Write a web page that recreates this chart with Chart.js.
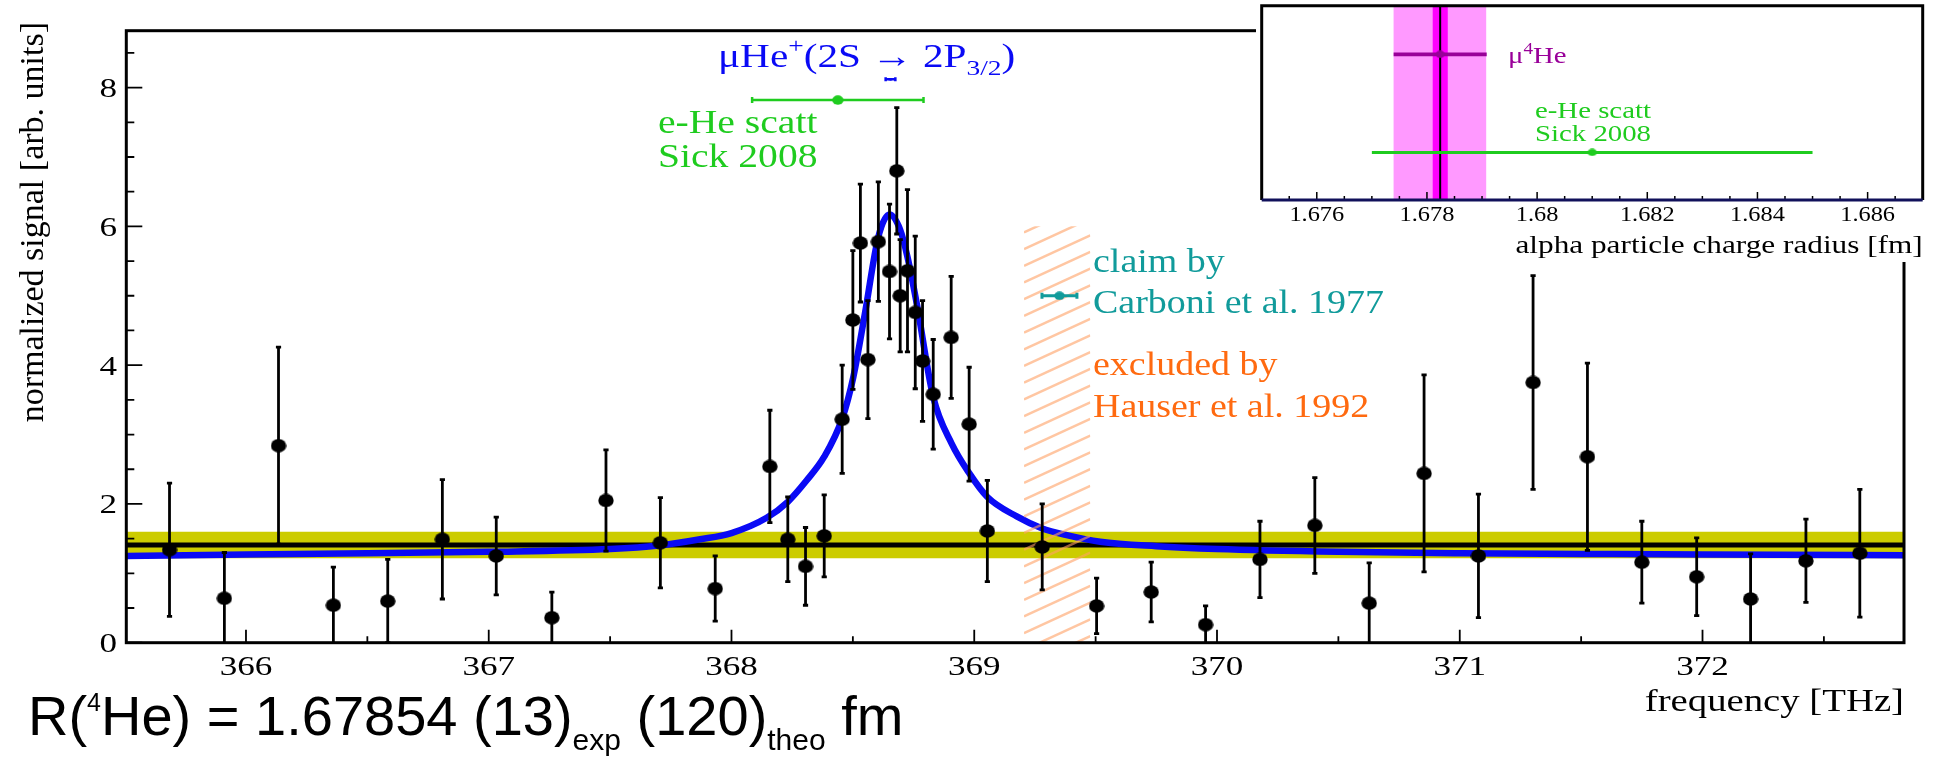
<!DOCTYPE html>
<html>
<head>
<meta charset="utf-8">
<script src="https://cdn.jsdelivr.net/npm/chart.js@4/dist/chart.umd.min.js"></script>
<style>
html, body { margin: 0; padding: 0; background: #fff; }
#wrap { position: relative; width: 1943px; height: 759px; }
#main { position: absolute; left: 0; top: 0; }
#inset { position: absolute; left: 1256px; top: 0; }
</style>
</head>
<body>
<div id="wrap">
  <canvas id="main" width="1943" height="759"></canvas>
  <canvas id="inset" width="687" height="262"></canvas>
</div>
<script>
// measured points: laser frequency [THz], normalized signal, error
var freq = [365.685, 365.911, 366.134, 366.36, 366.584, 366.809, 367.031, 367.26, 367.483, 367.707,
  367.933, 368.158, 368.232, 368.305, 368.382, 368.456, 368.50, 368.531, 368.562, 368.605,
  368.651, 368.681, 368.695, 368.725, 368.757, 368.787, 368.831, 368.905, 368.979, 369.054,
  369.28, 369.504, 369.729, 369.953, 370.177, 370.403, 370.627, 370.853, 371.077, 371.302,
  371.526, 371.75, 371.976, 372.198, 372.426, 372.648];
var signal = [1.34, 0.64, 2.84, 0.54, 0.60, 1.49, 1.25, 0.36, 2.05, 1.44,
  0.78, 2.54, 1.49, 1.10, 1.54, 3.22, 4.65, 5.76, 4.08, 5.78,
  5.35, 6.80, 5.00, 5.36, 4.76, 4.06, 3.58, 4.40, 3.15, 1.61,
  1.38, 0.53, 0.73, 0.26, 1.20, 1.69, 0.57, 2.44, 1.25, 3.75,
  2.68, 1.16, 0.95, 0.63, 1.18, 1.29];
var sigErr = [0.96, 0.66, 1.42, 0.55, 0.60, 0.86, 0.56, 0.37, 0.73, 0.65,
  0.47, 0.81, 0.61, 0.56, 0.59, 0.78, 1.00, 0.85, 0.85, 0.86,
  0.97, 0.91, 0.81, 1.17, 1.10, 0.87, 0.79, 0.88, 0.82, 0.73,
  0.62, 0.40, 0.43, 0.27, 0.55, 0.69, 0.58, 1.42, 0.89, 1.54,
  1.35, 0.59, 0.56, 0.65, 0.60, 0.92];

// fitted resonance line
var fitFreq = [365.5, 366.0, 366.5, 367.0, 367.5, 367.7, 367.871, 368.0, 368.145, 368.232,
  368.31, 368.382, 368.456, 368.502, 368.55, 368.605, 368.651, 368.695, 368.725, 368.763,
  368.831, 368.907, 368.98, 369.054, 369.175, 369.278, 369.381, 369.519, 369.75, 370.0,
  370.5, 371.0, 371.5, 372.0, 372.83];
var fitSignal = [1.25, 1.27, 1.29, 1.31, 1.35, 1.40, 1.49, 1.58, 1.80, 2.03,
  2.34, 2.68, 3.23, 3.83, 4.75, 5.85, 6.17, 5.95, 5.56, 4.89,
  3.54, 2.87, 2.44, 2.10, 1.82, 1.65, 1.55, 1.455, 1.39, 1.35,
  1.31, 1.29, 1.28, 1.27, 1.26];

// background level and its band
var freqRange = [365.507, 372.83];
var bgLevel = 1.408;
var bgBand = [1.216, 1.6];

// other results, drawn in frequency units
var muHe = [368.655, 8.12, 0.02];
var eHeScatt = [368.438, 7.82, 0.353];
var carboni = [369.351, 5.0, 0.072];
var hauserExcl = [369.205, 369.478, 6.0];

var xTickValues = [366, 367, 368, 369, 370, 371, 372];
var yTickValues = [0, 2, 4, 6, 8];

// inset: alpha particle charge radius [fm]
var radiusTicks = [1.676, 1.678, 1.68, 1.682, 1.684, 1.686];
var radiusTickLabels = ['1.676', '1.678', '1.68', '1.682', '1.684', '1.686'];
var muRadius = 1.67824;
var muRadiusExp = [1.6781, 1.67838];
var muRadiusTot = [1.67739, 1.67908];
var scattRadius = [1.681, 0.004];
var insetRows = [0.75, 0.245];

var SERIF = '"Liberation Serif", "DejaVu Serif", serif';
var SANS = '"Liberation Sans", Arial, sans-serif';

function makeDot(w, h, color) {
  var c = document.createElement('canvas');
  c.width = w; c.height = h;
  var g = c.getContext('2d');
  g.fillStyle = color;
  g.beginPath();
  g.ellipse(w / 2, h / 2, w / 2 - 0.3, h / 2 - 0.3, 0, 0, Math.PI * 2);
  g.fill();
  return c;
}

// text drawn a little wider, like the ROOT output
function wideText(ctx, parts, x, y, align, sx) {
  ctx.save();
  ctx.textBaseline = 'alphabetic';
  ctx.textAlign = 'left';
  var w = 0;
  parts.forEach(function (p) { ctx.font = p.size + 'px ' + p.family; w += ctx.measureText(p.t).width; });
  w *= sx;
  var x0 = align === 'right' ? x - w : (align === 'center' ? x - w / 2 : x);
  ctx.translate(x0, y);
  ctx.scale(sx, 1);
  var cx = 0;
  parts.forEach(function (p) {
    ctx.font = p.size + 'px ' + p.family;
    ctx.fillStyle = p.color;
    ctx.fillText(p.t, cx, p.dy || 0);
    cx += ctx.measureText(p.t).width;
  });
  ctx.restore();
}
function seg(t, size, color, family, dy) {
  return { t: t, size: size, color: color, family: family || SERIF, dy: dy || 0 };
}

var errorBars = {
  id: 'errorBars',
  beforeDatasetDraw: function (chart, args) {
    var ds = chart.data.datasets[args.index];
    if (!ds.errY && !ds.errX) return;
    var xs = chart.scales.x, ys = chart.scales.y, ctx = chart.ctx, a = chart.chartArea;
    ctx.save();
    ctx.beginPath();
    ctx.rect(a.left, a.top, a.right - a.left, a.bottom - a.top);
    ctx.clip();
    ctx.strokeStyle = ds.barColor;
    ctx.lineWidth = ds.barWidth;
    ds.data.forEach(function (p, i) {
      var px = xs.getPixelForValue(p.x), py = ys.getPixelForValue(p.y);
      var c = ds.capSize;
      ctx.beginPath();
      if (ds.errY) {
        var t = ys.getPixelForValue(p.y + ds.errY[i]), b = ys.getPixelForValue(p.y - ds.errY[i]);
        ctx.moveTo(px, t); ctx.lineTo(px, b);
        ctx.moveTo(px - c, t); ctx.lineTo(px + c, t);
        ctx.moveTo(px - c, b); ctx.lineTo(px + c, b);
      }
      if (ds.errX) {
        var l = xs.getPixelForValue(p.x - ds.errX[i]), r = xs.getPixelForValue(p.x + ds.errX[i]);
        ctx.moveTo(l, py); ctx.lineTo(r, py);
        ctx.moveTo(l, py - c); ctx.lineTo(l, py + c);
        ctx.moveTo(r, py - c); ctx.lineTo(r, py + c);
      }
      ctx.stroke();
    });
    ctx.restore();
  }
};

var hatch = {
  id: 'hatch',
  afterDatasetDraw: function (chart, args) {
    if (chart.data.datasets[args.index].label !== 'fit') return;
    var xs = chart.scales.x, ys = chart.scales.y, ctx = chart.ctx;
    var x0 = xs.getPixelForValue(hauserExcl[0]), x1 = xs.getPixelForValue(hauserExcl[1]);
    var y0 = ys.getPixelForValue(hauserExcl[2]), y1 = ys.getPixelForValue(0);
    var slope = 0.46, step = 16.7;
    ctx.save();
    ctx.beginPath();
    ctx.rect(x0, y0, x1 - x0, y1 - y0);
    ctx.clip();
    ctx.strokeStyle = 'rgba(255, 160, 100, 0.6)';
    ctx.lineWidth = 2.5;
    for (var b = y0 + 6; b < y1 + slope * (x1 - x0) + step; b += step) {
      ctx.beginPath();
      ctx.moveTo(x0, b);
      ctx.lineTo(x1, b - slope * (x1 - x0));
      ctx.stroke();
    }
    ctx.restore();
  }
};

var mainFrame = {
  id: 'mainFrame',
  afterDraw: function (chart) {
    var ctx = chart.ctx, a = chart.chartArea, xs = chart.scales.x, ys = chart.scales.y;
    ctx.save();
    ctx.strokeStyle = '#000';
    ctx.lineWidth = 1.8;
    var v, p;
    ctx.beginPath();
    for (v = 0; v <= 8.5; v += 0.5) {
      p = ys.getPixelForValue(v);
      ctx.moveTo(a.left, p); ctx.lineTo(a.left + (v % 2 === 0 ? 16 : 8), p);
    }
    for (v = 366; v <= 372.5; v += 0.5) {
      p = xs.getPixelForValue(v);
      ctx.moveTo(p, a.bottom); ctx.lineTo(p, a.bottom - (v % 1 === 0 ? 13 : 6.5));
    }
    ctx.stroke();
    ctx.lineWidth = 3;
    ctx.strokeRect(a.left, a.top, a.right - a.left, a.bottom - a.top);
    ctx.restore();

    yTickValues.forEach(function (t) {
      wideText(ctx, [seg(String(t), 27, '#000')], 117, ys.getPixelForValue(t) + 9.5, 'right', 1.3);
    });
    xTickValues.forEach(function (t) {
      wideText(ctx, [seg(String(t), 27, '#000')], xs.getPixelForValue(t), 675, 'center', 1.3);
    });
    wideText(ctx, [seg('frequency [THz]', 31, '#000')], a.right, 711, 'right', 1.25);

    ctx.save();
    ctx.translate(34, 22);
    ctx.rotate(-Math.PI / 2);
    ctx.font = '34px ' + SERIF;
    ctx.fillStyle = '#000';
    ctx.textAlign = 'right';
    ctx.textBaseline = 'middle';
    ctx.fillText('normalized signal [arb. units]', 0, 0);
    ctx.restore();

    var blue = '#0a0af5', green = '#1fcc1f', teal = '#119b9b', orange = '#ff6a10';
    wideText(ctx, [seg('\u03bcHe', 33, blue), seg('+', 22, blue, SERIF, -14), seg('(2S \u2192 2P', 33, blue),
      seg('3/2', 22, blue, SERIF, 8), seg(')', 33, blue)], 718, 67, 'left', 1.25);
    wideText(ctx, [seg('e-He scatt', 33, green)], 658, 133, 'left', 1.2);
    wideText(ctx, [seg('Sick 2008', 33, green)], 658, 167, 'left', 1.2);
    wideText(ctx, [seg('claim by', 33, teal)], 1093, 272, 'left', 1.15);
    wideText(ctx, [seg('Carboni et al. 1977', 33, teal)], 1093, 313, 'left', 1.15);
    wideText(ctx, [seg('excluded by', 33, orange)], 1093, 375, 'left', 1.15);
    wideText(ctx, [seg('Hauser et al. 1992', 33, orange)], 1093, 417, 'left', 1.15);

    wideText(ctx, [seg('R(', 56, '#000', SANS), seg('4', 25, '#000', SANS, -24),
      seg('He) = 1.67854 (13)', 56, '#000', SANS), seg('exp', 30, '#000', SANS, 15),
      seg(' (120)', 56, '#000', SANS), seg('theo', 30, '#000', SANS, 15),
      seg(' fm', 56, '#000', SANS)], 28, 735, 'left', 1);
  }
};

var points = freq.map(function (f, i) { return { x: f, y: signal[i] }; });
var fitPoints = fitFreq.map(function (f, i) { return { x: f, y: fitSignal[i] }; });

new Chart(document.getElementById('main'), {
  type: 'scatter',
  data: {
    datasets: [
      {
        type: 'line', label: 'band', order: 10, clip: 0,
        data: [{ x: freqRange[0], y: bgBand[1] }, { x: freqRange[1], y: bgBand[1] }],
        fill: { value: bgBand[0] }, backgroundColor: '#cccc00', borderWidth: 0, pointRadius: 0
      },
      {
        type: 'line', label: 'background', order: 9, clip: 0,
        data: [{ x: freqRange[0], y: bgLevel }, { x: freqRange[1], y: bgLevel }],
        borderColor: '#000', borderWidth: 5, pointRadius: 0, fill: false
      },
      {
        type: 'line', label: 'fit', order: 8, clip: 0, data: fitPoints,
        borderColor: '#0a0af5', borderWidth: 6.5, pointRadius: 0, fill: false,
        cubicInterpolationMode: 'monotone'
      },
      {
        label: 'data', order: 3, data: points, errY: sigErr,
        barColor: '#000', barWidth: 2.8, capSize: 2.6,
        pointStyle: makeDot(16, 14, '#000'), pointRadius: 7
      },
      {
        label: 'eHe', order: 2, data: [{ x: eHeScatt[0], y: eHeScatt[1] }], errX: [eHeScatt[2]],
        barColor: '#1fcc1f', barWidth: 2.5, capSize: 3,
        pointStyle: makeDot(12, 10, '#1fcc1f'), pointRadius: 5
      },
      {
        label: 'muHe', order: 1, data: [{ x: muHe[0], y: muHe[1] }], errX: [muHe[2]],
        barColor: '#0a0af5', barWidth: 2.5, capSize: 2,
        pointStyle: makeDot(4, 3, '#0a0af5'), pointRadius: 2
      },
      {
        label: 'carboni', order: 0, data: [{ x: carboni[0], y: carboni[1] }], errX: [carboni[2]],
        barColor: '#119b9b', barWidth: 3, capSize: 3,
        pointStyle: makeDot(11, 9, '#119b9b'), pointRadius: 5
      }
    ]
  },
  options: {
    responsive: false,
    animation: false,
    events: [],
    layout: { padding: { left: 0, top: 30.7, right: 39, bottom: 0 } },
    plugins: { legend: { display: false }, tooltip: { enabled: false } },
    scales: {
      x: {
        type: 'linear', min: freqRange[0], max: freqRange[1],
        grid: { display: false }, border: { display: false }, ticks: { display: false },
        afterFit: function (s) { s.height = 116.3; }
      },
      y: {
        type: 'linear', min: 0, max: 8.82,
        grid: { display: false }, border: { display: false }, ticks: { display: false },
        afterFit: function (s) { s.width = 126.3; }
      }
    }
  },
  plugins: [hatch, errorBars, mainFrame]
});

var insetFrame = {
  id: 'insetFrame',
  beforeDraw: function (chart) {
    var ctx = chart.ctx;
    ctx.save();
    ctx.fillStyle = '#fff';
    ctx.fillRect(0, 0, chart.width, chart.height);
    ctx.restore();
  },
  afterDraw: function (chart) {
    var ctx = chart.ctx, a = chart.chartArea, xs = chart.scales.x;
    ctx.save();
    ctx.strokeStyle = '#000';
    ctx.lineWidth = 1.5;
    ctx.beginPath();
    for (var v = 1.6755; v < 1.687; v += 0.0005) {
      var p = xs.getPixelForValue(v);
      var major = Math.abs((v - 1.676) / 0.002 - Math.round((v - 1.676) / 0.002)) < 0.01;
      ctx.moveTo(p, a.bottom); ctx.lineTo(p, a.bottom - (major ? 8 : 4));
    }
    ctx.stroke();
    ctx.lineWidth = 3;
    ctx.beginPath();
    ctx.moveTo(a.left, a.bottom); ctx.lineTo(a.left, a.top); ctx.lineTo(a.right, a.top); ctx.lineTo(a.right, a.bottom);
    ctx.stroke();
    ctx.strokeStyle = '#10105a';
    ctx.beginPath();
    ctx.moveTo(a.left, a.bottom); ctx.lineTo(a.right, a.bottom);
    ctx.stroke();
    ctx.restore();

    radiusTicks.forEach(function (t, i) {
      wideText(ctx, [seg(radiusTickLabels[i], 21, '#000')], xs.getPixelForValue(t), 221, 'center', 1.16);
    });
    wideText(ctx, [seg('alpha particle charge radius [fm]', 25, '#000')], a.right, 253, 'right', 1.25);
    var purple = '#990099', green = '#1fcc1f';
    wideText(ctx, [seg('\u03bc', 24, purple), seg('4', 16, purple, SERIF, -9), seg('He', 24, purple)], 252, 63, 'left', 1.2);
    wideText(ctx, [seg('e-He scatt', 24, green)], 279, 118, 'left', 1.2);
    wideText(ctx, [seg('Sick 2008', 24, green)], 279, 141, 'left', 1.2);
  }
};

new Chart(document.getElementById('inset'), {
  type: 'scatter',
  data: {
    datasets: [
      {
        type: 'line', order: 10, data: [{ x: muRadiusTot[0], y: 1 }, { x: muRadiusTot[1], y: 1 }],
        fill: 'origin', backgroundColor: '#ff99ff', borderWidth: 0, pointRadius: 0
      },
      {
        type: 'line', order: 9, data: [{ x: muRadiusExp[0], y: 1 }, { x: muRadiusExp[1], y: 1 }],
        fill: 'origin', backgroundColor: '#ff00ff', borderWidth: 0, pointRadius: 0
      },
      {
        type: 'line', order: 8, data: [{ x: muRadius, y: 0 }, { x: muRadius, y: 1 }],
        borderColor: '#000', borderWidth: 2, pointRadius: 0, fill: false
      },
      {
        order: 1, data: [{ x: muRadius, y: insetRows[0] }],
        errX: [(muRadiusTot[1] - muRadiusTot[0]) / 2], barColor: '#990099', barWidth: 3.7, capSize: 0,
        pointStyle: makeDot(9, 8, '#990099'), pointRadius: 4
      },
      {
        order: 0, data: [{ x: scattRadius[0], y: insetRows[1] }],
        errX: [scattRadius[1]], barColor: '#1fcc1f', barWidth: 3, capSize: 0,
        pointStyle: makeDot(10, 8, '#1fcc1f'), pointRadius: 4
      }
    ]
  },
  options: {
    responsive: false,
    animation: false,
    events: [],
    layout: { padding: { left: 0, top: 5.7, right: 20.3, bottom: 0 } },
    plugins: { legend: { display: false }, tooltip: { enabled: false } },
    scales: {
      x: {
        type: 'linear', min: 1.675, max: 1.687,
        grid: { display: false }, border: { display: false }, ticks: { display: false },
        afterFit: function (s) { s.height = 62; }
      },
      y: {
        type: 'linear', min: 0, max: 1,
        grid: { display: false }, border: { display: false }, ticks: { display: false },
        afterFit: function (s) { s.width = 5.7; }
      }
    }
  },
  plugins: [errorBars, insetFrame]
});
</script>
</body>
</html>
